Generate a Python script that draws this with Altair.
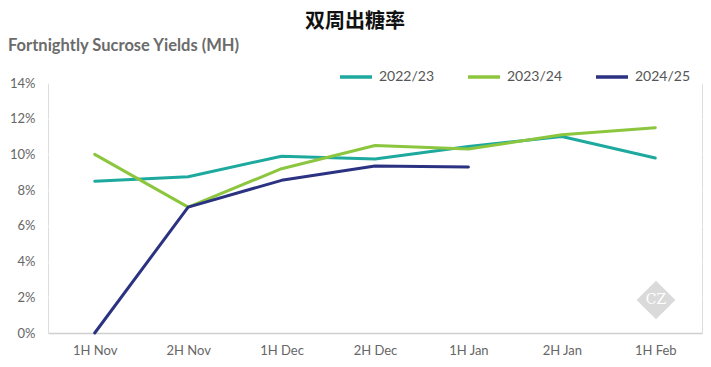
import altair as alt
import pandas as pd

periods = ["1H Nov", "2H Nov", "1H Dec", "2H Dec", "1H Jan", "2H Jan", "1H Feb"]
s2223 = [8.5, 8.75, 9.9, 9.75, 10.45, 11.0, 9.8]
s2324 = [10.0, 7.05, 9.2, 10.5, 10.3, 11.1, 11.5]
s2425 = [0.0, 7.05, 8.55, 9.35, 9.3]
seasons = ["2022/23", "2023/24", "2024/25"]
colors = ["#1ea99f", "#8cc63f", "#2b3282"]
yticks = [0, 2, 4, 6, 8, 10, 12, 14]

rows = []
for name, vals in zip(seasons, [s2223, s2324, s2425]):
    for i, v in enumerate(vals):
        rows.append({"period": periods[i], "season": name, "value": v / 100.0, "order": i})
df = pd.DataFrame(rows)

FONT = "Lato"

lines = alt.Chart(df).mark_line(strokeWidth=3, strokeCap="round", strokeJoin="round").encode(
    x=alt.X("period:N", sort=periods, scale=alt.Scale(type="point", padding=0.5),
            axis=alt.Axis(title=None, labelAngle=0, labelFont=FONT, labelFontSize=13, labelColor="#666666",
                          ticks=False, domain=True, domainColor="#cfcfcf", domainWidth=1.5,
                          labelPadding=11, grid=False)),
    y=alt.Y("value:Q", scale=alt.Scale(domain=[0, 0.14], nice=False),
            axis=alt.Axis(title=None, format=".0%", values=[t / 100.0 for t in yticks], labelFont=FONT,
                          labelFontSize=13, labelColor="#666666", ticks=False, domain=False,
                          labelPadding=13, gridColor="#ffffff", gridWidth=1.5)),
    color=alt.Color("season:N", scale=alt.Scale(domain=seasons, range=colors),
                    legend=alt.Legend(title=None, orient="none", direction="horizontal",
                                      legendX=290, legendY=-24, symbolType="stroke",
                                      symbolSize=1024, symbolStrokeWidth=3.5, labelFont=FONT,
                                      labelFontSize=14, labelColor="#555555", columnPadding=26,
                                      labelOffset=5)),
    order="order:Q",
)

wm_df = pd.DataFrame({"t": ["CZ"]})
wm = alt.Chart(wm_df).mark_point(shape="diamond", filled=True, size=1500, color="#d6d6d6", opacity=0.9).encode(
    x=alt.value(608), y=alt.value(217)
)
wm_text = alt.Chart(wm_df).mark_text(font="DejaVu Serif", fontSize=14, color="#ffffff").encode(
    x=alt.value(608), y=alt.value(217), text="t:N"
)

sub_df = pd.DataFrame({"t": ["Fortnightly Sucrose Yields (MH)"]})
subtitle = alt.Chart(sub_df).mark_text(font=FONT, fontSize=16.5, fontWeight="bold", color="#6b6b6b",
                                       align="left", baseline="middle").encode(
    x=alt.value(-40), y=alt.value(-37), text="t:N"
)

title_df = pd.DataFrame({"t": ["双周出糖率"]})
title = alt.Chart(title_df).mark_text(font="Noto Sans CJK SC", fontSize=20, fontWeight=700, color="#111111",
                                      align="center", baseline="middle").encode(
    x=alt.value(307), y=alt.value(-61), text="t:N"
)

chart = alt.layer(lines, wm, wm_text, subtitle, title).properties(
    width=654, height=250,
    padding={"left": 40, "top": 75, "right": 1, "bottom": 26},
    autosize=alt.AutoSizeParams(type="none"),
).configure_view(fill="#f1f1f1", stroke=None).configure(background="#ffffff")

chart.save("out.html", embed_options={"renderer": "svg", "actions": False})
